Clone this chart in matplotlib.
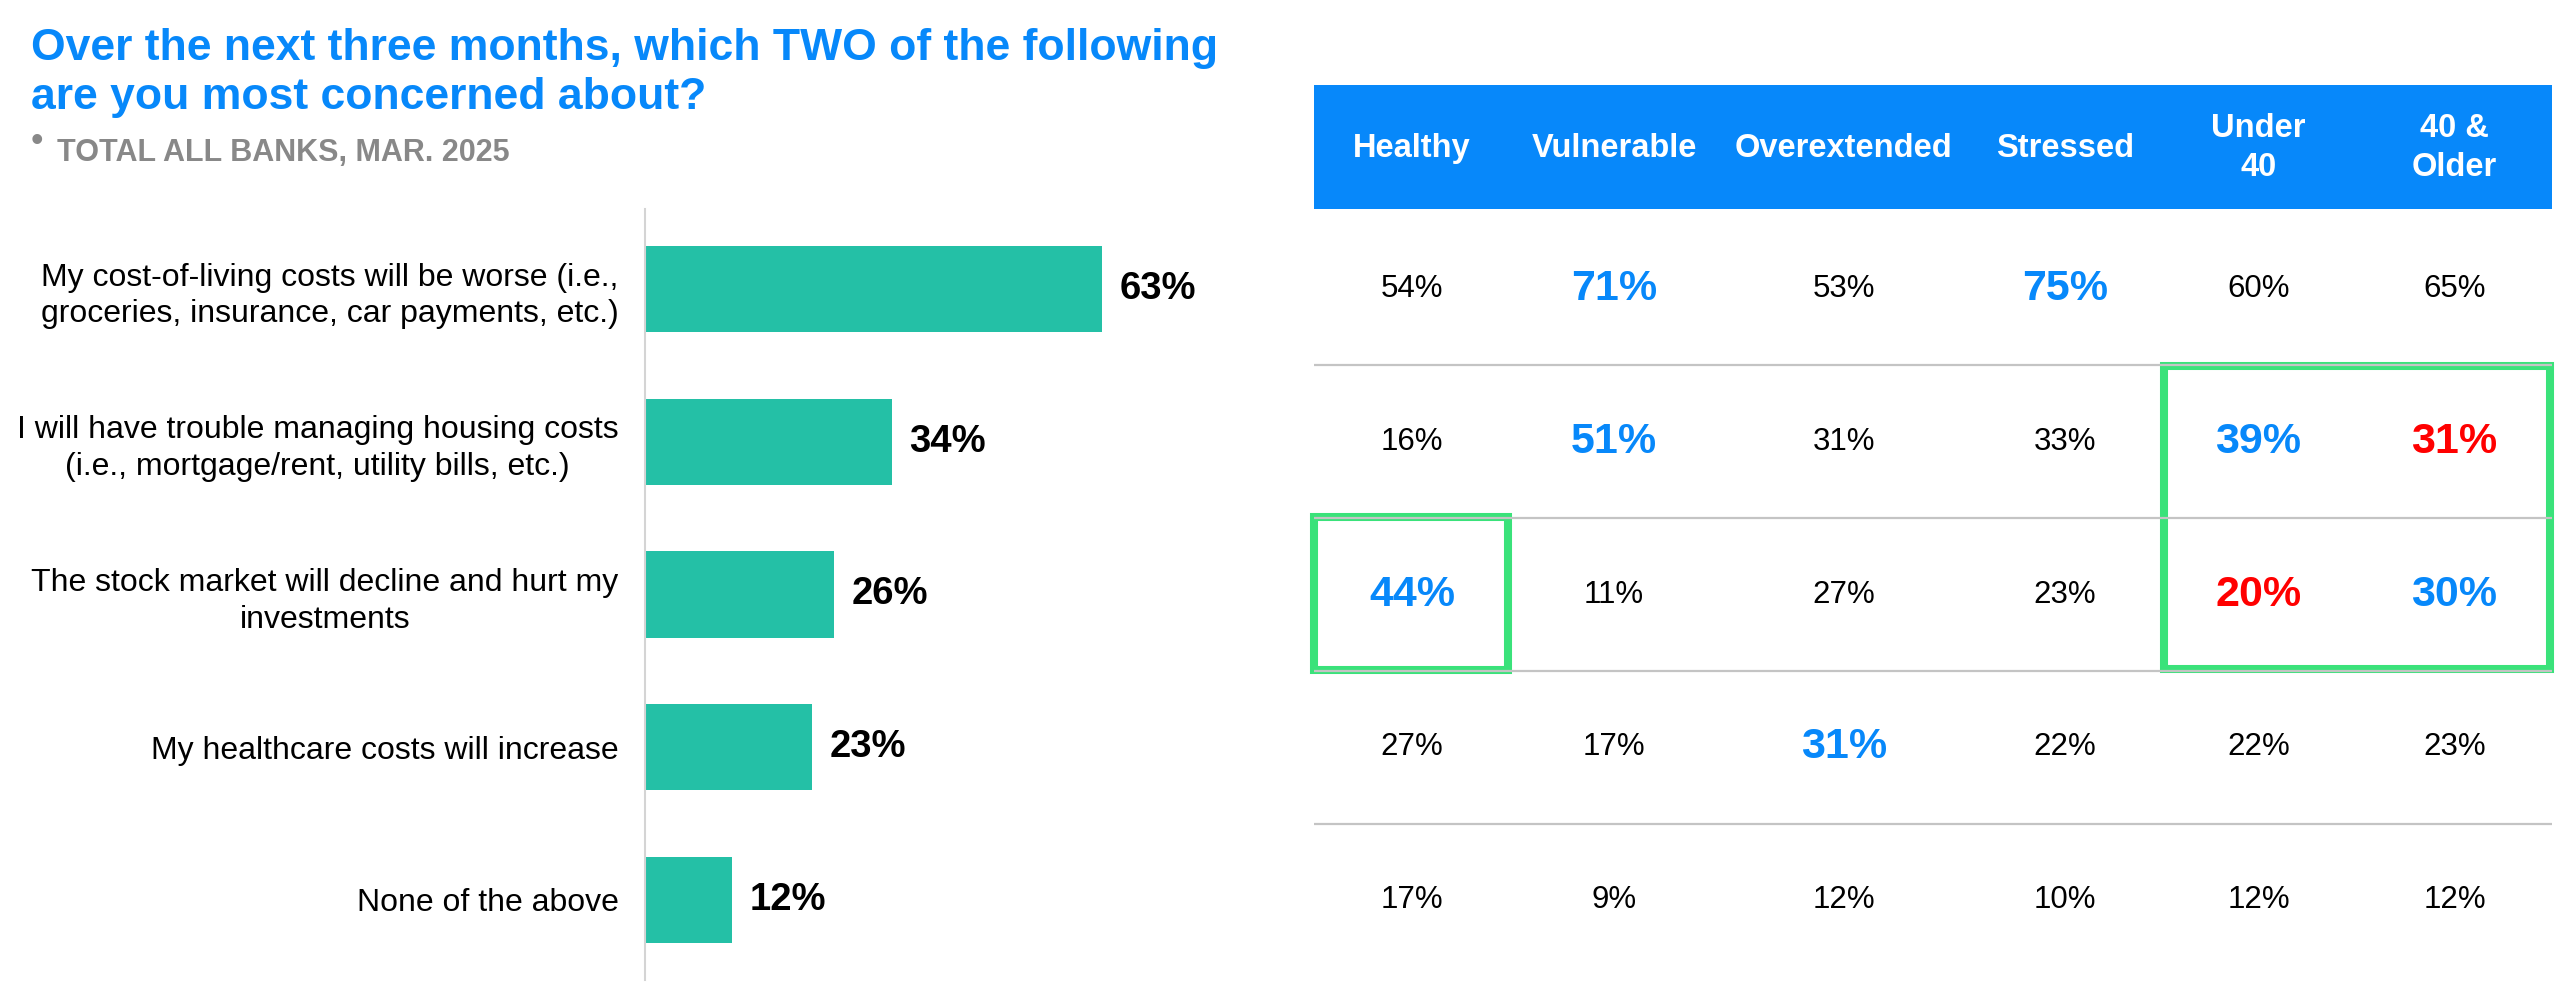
import matplotlib
matplotlib.use("Agg")
import matplotlib.pyplot as plt
from matplotlib.patches import Rectangle

# data
title_lines = ["Over the next three months, which TWO of the following",
               "are you most concerned about?"]
subtitle = "TOTAL ALL BANKS, MAR. 2025"

categories = ["My cost-of-living costs will be worse (i.e.,\ngroceries, insurance, car payments, etc.)",
              "I will have trouble managing housing costs\n(i.e., mortgage/rent, utility bills, etc.)",
              "The stock market will decline and hurt my\ninvestments",
              "My healthcare costs will increase",
              "None of the above"]
total = [63, 34, 26, 23, 12]

segments = ["Healthy", "Vulnerable", "Overextended", "Stressed", "Under\n40", "40 &\nOlder"]
healthy = [54, 16, 44, 27, 17]
vulnerable = [71, 51, 11, 17, 9]
overextended = [53, 31, 27, 31, 12]
stressed = [75, 33, 23, 22, 10]
under40 = [60, 39, 20, 22, 12]
older40 = [65, 31, 30, 23, 12]
table = [healthy, vulnerable, overextended, stressed, under40, older40]

# (column, row) cells significantly higher / lower than the rest
higher = [(1, 0), (3, 0), (1, 1), (4, 1), (0, 2), (5, 2), (2, 3)]
lower = [(5, 1), (4, 2)]

BLUE = "#0788fa"
RED = "#ff0000"
TEAL = "#24c0a6"
GREEN = "#3ae27a"
GREY = "#888888"

W, H = 2560, 1008
plt.rcParams['font.family'] = ['Liberation Sans', 'DejaVu Sans']

fig = plt.figure(figsize=(W / 100, H / 100), dpi=100)

def fx(px):
    return px / W

def fy(py):
    return 1 - py / H

# title + subtitle
fig.text(fx(31), fy(60), title_lines[0], fontsize=32, fontweight='bold', color=BLUE, va='baseline')
fig.text(fx(31), fy(109), title_lines[1], fontsize=32, fontweight='bold', color=BLUE, va='baseline')
fig.text(fx(37), fy(142), "\u2022", fontsize=26, color=GREY, ha='center', va='center')
fig.text(fx(57), fy(161), subtitle, fontsize=22, fontweight='bold', color=GREY, va='baseline')

# bar chart
row_px = 152.7
top, bottom = 209, 980
pad = 80 / row_px
ax = fig.add_axes([fx(645), fy(bottom), fx(640), (bottom - top) / H])
ypos = list(range(len(total)))
ax.barh(ypos, total, height=0.565, color=TEAL)
ax.set_ylim(len(total) - 1 + pad, -pad)
ax.set_xlim(0, 640 / 7.25)
for s in ['top', 'right', 'bottom']:
    ax.spines[s].set_visible(False)
ax.spines['left'].set_color('#d4d4d4')
ax.spines['left'].set_linewidth(1.5)
ax.set_xticks([])
ax.set_yticks(ypos)
ax.set_yticklabels(categories, fontsize=23)
ax.tick_params(axis='y', length=0, pad=19)
for lab in ax.get_yticklabels():
    lab.set_multialignment('center')
    lab.set_linespacing(1.3)
for i, v in enumerate(total):
    ax.annotate(f"{v}%", xy=(v, i), xytext=(13, 0), textcoords='offset points',
                va='center', ha='left', fontsize=27.5, fontweight='bold', color='black')

# table
edges = [0, 196, 404, 656, 846, 1043, 1238]
centers = [(edges[k] + edges[k + 1]) / 2 for k in range(len(segments))]
head_top = 85
tax = fig.add_axes([fx(1314), fy(bottom), fx(1238), (bottom - head_top) / H])
head_units = (top - head_top) / row_px
tax.set_xlim(0, edges[-1])
tax.set_ylim(len(total) - 1 + pad, -pad - head_units)
tax.axis('off')

tax.add_patch(Rectangle((0, -pad - head_units), edges[-1], head_units, color=BLUE, lw=0))
head_y = (148 - 289) / row_px
for c, name in zip(centers, segments):
    tax.text(c, head_y, name, ha='center', va='center', color='white', fontsize=23.5,
             fontweight='bold', linespacing=1.3)

tax.hlines([r + 0.5 for r in range(len(total) - 1)], 0, edges[-1], color='#c4c4c4', lw=1.6)

for col, vals in enumerate(table):
    for row, v in enumerate(vals):
        if (col, row) in higher:
            tax.text(centers[col], row, f"{v}%", ha='center', va='center', fontsize=31,
                     fontweight='bold', color=BLUE)
        elif (col, row) in lower:
            tax.text(centers[col], row, f"{v}%", ha='center', va='center', fontsize=31,
                     fontweight='bold', color=RED)
        else:
            tax.text(centers[col], row, f"{v}%", ha='center', va='center', fontsize=22.5,
                     color='black')

tax.add_patch(Rectangle((0, 1.495), 194, 1.0, fill=False, edgecolor=GREEN, lw=5.8, clip_on=False))
tax.add_patch(Rectangle((850, 0.505), 386, 1.985, fill=False, edgecolor=GREEN, lw=5.8, clip_on=False))

fig.savefig("out.png", dpi=100, facecolor='white')
